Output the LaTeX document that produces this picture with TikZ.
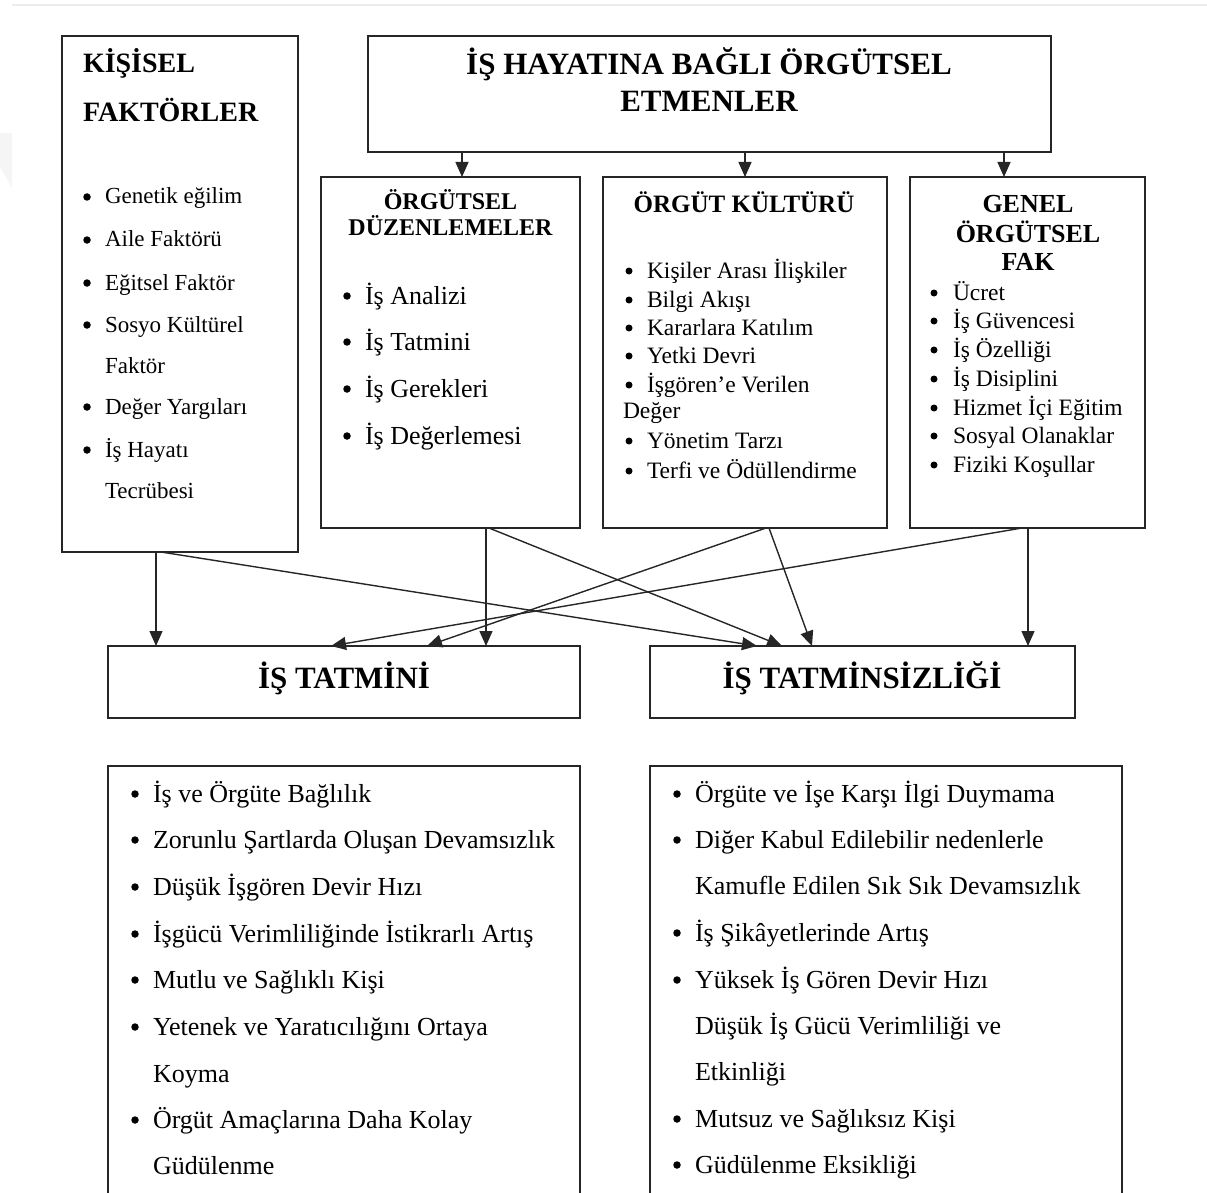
\documentclass[tikz,border=0pt]{standalone}
\usepackage{fontspec}
\setmainfont{Liberation Serif}
\usetikzlibrary{arrows.meta}
\begin{document}
\begin{tikzpicture}[x=1pt,y=-1pt,
  box/.style={draw=black!85, line width=1.4pt, inner sep=0pt, outer sep=0pt, anchor=north west},
  arr/.style={draw=black!85, line width=1.4pt, -{Triangle[length=15pt,width=13pt]}},
  tl/.style={anchor=base west, inner sep=0pt, outer sep=0pt},
  tc/.style={anchor=base, inner sep=0pt, outer sep=0pt},
  dot/.style={circle, fill=black, inner sep=0pt, outer sep=0pt, minimum size=7.5pt},
  fA/.style={font=\fontsize{23}{27}\selectfont},
  fB/.style={font=\fontsize{26}{30}\selectfont},
  fC/.style={font=\fontsize{23.5}{27}\selectfont},
  hK/.style={font=\bfseries\fontsize{28}{32}\selectfont},
  hT/.style={font=\bfseries\fontsize{31}{35}\selectfont},
  hS/.style={font=\bfseries\fontsize{24}{28}\selectfont},
  hS2/.style={font=\bfseries\fontsize{25}{28}\selectfont},
  hS3/.style={font=\bfseries\fontsize{26}{28}\selectfont},
  hB/.style={font=\bfseries\fontsize{31}{35}\selectfont}]
\useasboundingbox (0,0) rectangle (1207,1193);
% faint page remnants
\fill[black!4] (0,133) -- (12,133) -- (12,188) -- (0,167) -- cycle;
\draw[black!7, line width=1.5pt] (12,5) -- (1207,5);

% boxes
\node[box, minimum width=236pt, minimum height=516pt] (kf) at (62,36) {};
\node[box, minimum width=683pt, minimum height=116pt] (top) at (368,36) {};
\node[box, minimum width=259pt, minimum height=351pt] (od) at (321,177) {};
\node[box, minimum width=284pt, minimum height=351pt] (ok) at (603,177) {};
\node[box, minimum width=235pt, minimum height=351pt] (gf) at (910,177) {};
\node[box, minimum width=472pt, minimum height=72pt] (tt) at (108,646) {};
\node[box, minimum width=425pt, minimum height=72pt] (ts) at (650,646) {};
% open-bottom list boxes
\coordinate (blA) at (108,1193); \coordinate (blB) at (108,766);
\coordinate (blC) at (580,766); \coordinate (blD) at (580,1193);
\draw[draw=black!85, line width=1.4pt] (blA) -- (blB) -- (blC) -- (blD);
\coordinate (brA) at (650,1193); \coordinate (brB) at (650,766);
\coordinate (brC) at (1122,766); \coordinate (brD) at (1122,1193);
\draw[draw=black!85, line width=1.4pt] (brA) -- (brB) -- (brC) -- (brD);

% headings
\node[tl, hK] (kfh1) at (83,73) {KİŞİSEL};
\node[tl, hK] (kfh2) at (83,122) {FAKTÖRLER};
\node[tc, hT] (toph1) at (709,75) {İŞ HAYATINA BAĞLI ÖRGÜTSEL};
\node[tc, hT] (toph2) at (709,112) {ETMENLER};
\node[tc, hS] (odh1) at (450.5,210) {ÖRGÜTSEL};
\node[tc, hS] (odh2) at (450.5,236) {DÜZENLEMELER};
\node[tc, hS2] (okh1) at (744,212) {ÖRGÜT KÜLTÜRÜ};
\node[tc, hS3] (gfh1) at (1028,212) {GENEL};
\node[tc, hS3] (gfh2) at (1028,242) {ÖRGÜTSEL};
\node[tc, hS3] (gfh3) at (1028,270) {FAK};
\node[tc, hB] (tth) at (344,688) {İŞ TATMİNİ};
\node[tc, hB] (tsh) at (862,688) {İŞ TATMİNSİZLİĞİ};

% KİŞİSEL items
\foreach \y/\t [count=\i] in {204/Genetik eğilim, 247/Aile Faktörü, 290/Eğitsel Faktör, 332/Sosyo Kültürel, 414/Değer Yargıları, 457/İş Hayatı}{
  \node[dot] (kfb\i) at (87,\y-7) {};
  \node[tl, fA] (kfi\i) at (105,\y) {\t};}
\foreach \y/\t [count=\i] in {373/Faktör, 498/Tecrübesi}{
  \node[tl, fA] (kfc\i) at (105,\y) {\t};}

% ÖRGÜTSEL DÜZENLEMELER items
\foreach \y/\t [count=\i] in {304/İş Analizi, 350/İş Tatmini, 397/İş Gerekleri, 444/İş Değerlemesi}{
  \node[dot] (odb\i) at (347,\y-8) {};
  \node[tl, fB] (odi\i) at (365,\y) {\t};}

% ÖRGÜT KÜLTÜRÜ items
\foreach \y/\t [count=\i] in {278/Kişiler Arası İlişkiler, 307/Bilgi Akışı, 335/Kararlara Katılım, 363/Yetki Devri, 392/İşgören’e Verilen, 448/Yönetim Tarzı, 478/Terfi ve Ödüllendirme}{
  \node[dot, minimum size=7pt] (okb\i) at (629,\y-7) {};
  \node[tl, fC] (oki\i) at (647,\y) {\t};}
\node[tl, fC] (okc1) at (623,418) {Değer};

% GENEL items
\foreach \y/\t [count=\i] in {300/Ücret, 328/İş Güvencesi, 357/İş Özelliği, 386/İş Disiplini, 415/Hizmet İçi Eğitim, 443/Sosyal Olanaklar, 472/Fiziki Koşullar}{
  \node[dot, minimum size=7pt] (gfb\i) at (934,\y-7) {};
  \node[tl, fC] (gfi\i) at (953,\y) {\t};}

% bottom left list
\foreach \y/\t [count=\i] in {802/İş ve Örgüte Bağlılık, 848/Zorunlu Şartlarda Oluşan Devamsızlık, 895/Düşük İşgören Devir Hızı, 942/İşgücü Verimliliğinde İstikrarlı Artış, 988/Mutlu ve Sağlıklı Kişi, 1035/Yetenek ve Yaratıcılığını Ortaya, 1128/Örgüt Amaçlarına Daha Kolay}{
  \node[dot] (blb\i) at (135,\y-8) {};
  \node[tl, fB] (bli\i) at (153,\y) {\t};}
\foreach \y/\t [count=\i] in {1082/Koyma, 1174/Güdülenme}{
  \node[tl, fB] (blc\i) at (153,\y) {\t};}

% bottom right list
\foreach \y/\t [count=\i] in {802/Örgüte ve İşe Karşı İlgi Duymama, 848/Diğer Kabul Edilebilir nedenlerle, 941/İş Şikâyetlerinde Artış, 988/Yüksek İş Gören Devir Hızı, 1127/Mutsuz ve Sağlıksız Kişi, 1173/Güdülenme Eksikliği}{
  \node[dot] (brb\i) at (677,\y-8) {};
  \node[tl, fB] (bri\i) at (695,\y) {\t};}
\foreach \y/\t [count=\i] in {894/Kamufle Edilen Sık Sık Devamsızlık, 1034/Düşük İş Gücü Verimliliği ve, 1080/Etkinliği}{
  \node[tl, fB] (brc\i) at (695,\y) {\t};}

% arrows from top box
\draw[arr] ([xshift=-247.5pt]top.south) -- ([xshift=11.5pt]od.north);
\draw[arr] ([xshift=35.5pt]top.south) -- (ok.north);
\draw[arr] ([xshift=294.5pt]top.south) -- ([xshift=-23.5pt]gf.north);

% arrows to outcomes
\draw[arr] ([xshift=-24pt]kf.south) -- ([xshift=-188pt]tt.north);
\draw[arr] ([xshift=-19pt]kf.south) -- ([xshift=-105.5pt]ts.north);
\draw[arr] ([xshift=35.5pt]od.south) -- ([xshift=142pt]tt.north);
\draw[arr] ([xshift=38.5pt]od.south) -- ([xshift=-80.5pt]ts.north);
\draw[arr] ([xshift=21pt]ok.south) -- ([xshift=83pt]tt.north);
\draw[arr] ([xshift=24pt]ok.south) -- ([xshift=-50.5pt]ts.north);
\draw[arr] ([xshift=-5.5pt]gf.south) -- ([xshift=-13pt]tt.north);
\draw[arr] ([xshift=0.5pt]gf.south) -- ([xshift=165.5pt]ts.north);
\end{tikzpicture}
\end{document}
